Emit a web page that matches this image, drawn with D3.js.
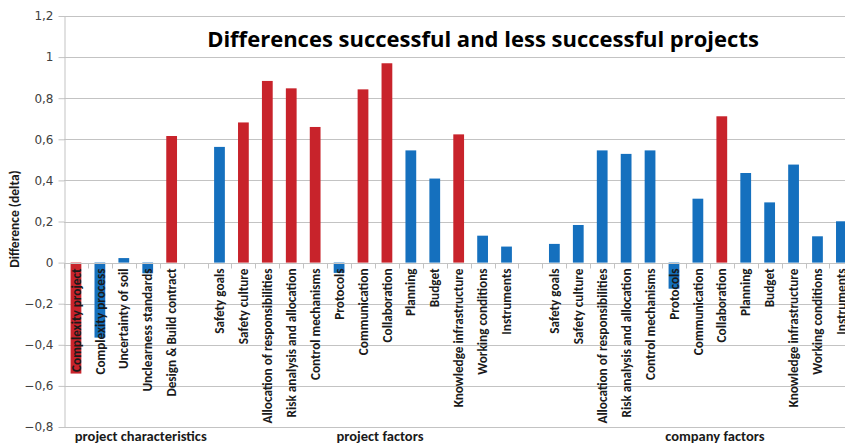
<!DOCTYPE html>
<html>
<head>
<meta charset="utf-8">
<script src="https://cdn.jsdelivr.net/npm/d3@7/dist/d3.min.js"></script>
<style>
  html, body { margin: 0; padding: 0; background: #fff; }
  svg { display: block; }
</style>
</head>
<body>
<svg id="chart" width="845" height="444"></svg>
<script>
// ---------------- DATA ----------------
const title = "Differences successful and less successful projects";
const yTitle = "Difference (delta)";
const groupNames = ["project characteristics", "project factors", "company factors"];

const characteristicLabels = ["Complexity project", "Complexity process", "Uncertainty of soil", "Unclearness standards", "Design & Build contract"];
const characteristicValues = [-0.54, -0.365, 0.022, -0.052, 0.616];
const characteristicSignificant = [true, false, false, false, true];

const factorLabels = ["Safety goals", "Safety culture", "Allocation of responsibilities", "Risk analysis and allocation", "Control mechanisms", "Protocols", "Communication", "Collaboration", "Planning", "Budget", "Knowledge infrastructure", "Working conditions", "Instruments"];
const projectFactorValues = [0.563, 0.682, 0.884, 0.848, 0.66, -0.05, 0.843, 0.97, 0.546, 0.409, 0.624, 0.131, 0.078];
const projectFactorSignificant = [false, true, true, true, true, false, true, true, false, false, true, false, false];
const companyFactorValues = [0.091, 0.183, 0.546, 0.529, 0.546, -0.127, 0.311, 0.712, 0.436, 0.293, 0.477, 0.128, 0.201];
const companyFactorSignificant = [false, false, false, false, false, false, false, true, false, false, false, false, false];

const yTicks = [-0.8, -0.6, -0.4, -0.2, 0, 0.2, 0.4, 0.6, 0.8, 1, 1.2];

// ---------------- BUILD ROWS ----------------
const rows = [];
function addGroup(g, labels, values, sig) {
  labels.forEach((l, i) => rows.push({ group: g, label: l, value: values[i], sig: sig[i] }));
  rows.push({ group: g, label: "", value: null, sig: false }); // gap category
}
addGroup(0, characteristicLabels, characteristicValues, characteristicSignificant);
addGroup(1, factorLabels, projectFactorValues, projectFactorSignificant);
addGroup(2, factorLabels, companyFactorValues, companyFactorSignificant);
rows.forEach((r, i) => r.idx = i);

// ---------------- LAYOUT ----------------
const W = 845, H = 444;
const plotLeft = 64, plotTop = 16, plotBottom = 427;
const stepPx = 23.92;
const pad = 0.55;
const red = "#C8232B", blue = "#1570BE", grid = "#C3C3C3";
const font = "Carlito, Lato, 'Open Sans', sans-serif";

const svg = d3.select("#chart");

const x = d3.scaleBand()
  .domain(rows.map(r => r.idx))
  .range([plotLeft, plotLeft + stepPx * rows.length])
  .paddingInner(pad)
  .paddingOuter(pad / 2);

const y = d3.scaleLinear().domain([-0.8, 1.2]).range([plotBottom, plotTop]);

// gridlines
svg.append("g").selectAll("line").data(yTicks).join("line")
  .attr("x1", plotLeft).attr("x2", W)
  .attr("y1", d => Math.round(y(d)) + 0.5).attr("y2", d => Math.round(y(d)) + 0.5)
  .attr("stroke", grid).attr("stroke-width", 1);

// y axis
const fmt = d => d3.format(".1~f")(d).replace(".", ",");
const yAxis = svg.append("g")
  .attr("transform", `translate(${plotLeft + 0.5},0)`)
  .call(d3.axisLeft(y).tickValues(yTicks).tickFormat(fmt).tickSize(6).tickSizeOuter(0).tickPadding(5));
yAxis.select(".domain").attr("stroke", grid);
yAxis.selectAll(".tick line").attr("stroke", grid);
yAxis.selectAll(".tick text").attr("fill", "#404040").style("font-family", "'DejaVu Sans', Verdana, sans-serif").style("font-size", "12px");

// bars
svg.append("g").selectAll("rect").data(rows.filter(r => r.value !== null)).join("rect")
  .attr("x", d => x(d.idx))
  .attr("width", x.bandwidth())
  .attr("y", d => y(Math.max(0, d.value)))
  .attr("height", d => Math.abs(y(d.value) - y(0)))
  .attr("fill", d => d.sig ? red : blue);

// zero line + category boundary ticks
const y0 = Math.round(y(0)) + 0.5;
svg.append("line").attr("x1", plotLeft).attr("x2", W).attr("y1", y0).attr("y2", y0).attr("stroke", grid);
svg.append("g").selectAll("line").data(d3.range(rows.length + 1)).join("line")
  .attr("x1", i => Math.round(x.range()[0] + i * x.step()) + 0.5)
  .attr("x2", i => Math.round(x.range()[0] + i * x.step()) + 0.5)
  .attr("y1", y0).attr("y2", y0 + 5)
  .attr("stroke", grid);

// category labels
svg.append("g").selectAll("text").data(rows.filter(r => r.label)).join("text")
  .attr("transform", d => `translate(${x(d.idx) + x.bandwidth() / 2},${y0 + 5}) rotate(-90)`)
  .attr("text-anchor", "end")
  .attr("dy", "0.35em")
  .attr("fill", "#1a1a1a")
  .style("font-family", font)
  .style("font-size", "13.2px")
  .style("font-weight", "600")
  .text(d => d.label);

// group labels
const groupSpans = groupNames.map((g, gi) => {
  const members = rows.filter(r => r.group === gi);
  const a = x.range()[0] + members[0].idx * x.step();
  const b = x.range()[0] + (members[members.length - 1].idx + 1) * x.step();
  return { name: g, c: (a + b) / 2 };
});
svg.append("g").selectAll("text").data(groupSpans).join("text")
  .attr("x", d => d.c + 5)
  .attr("y", 441)
  .attr("text-anchor", "middle")
  .attr("fill", "#1a1a1a")
  .style("font-family", font)
  .style("font-size", "14.5px")
  .style("font-weight", "700")
  .text(d => d.name);

// y title
svg.append("text")
  .attr("transform", `translate(19,219) rotate(-90)`)
  .attr("text-anchor", "middle")
  .attr("fill", "#1a1a1a")
  .style("font-family", font)
  .style("font-size", "13.5px")
  .style("font-weight", "700")
  .text(yTitle);

// chart title
svg.append("text")
  .attr("x", 483).attr("y", 47)
  .attr("text-anchor", "middle")
  .attr("fill", "#000")
  .style("font-family", "'Open Sans', sans-serif")
  .style("font-size", "22px")
  .style("font-weight", "700")
  .text(title);
</script>
</body>
</html>
